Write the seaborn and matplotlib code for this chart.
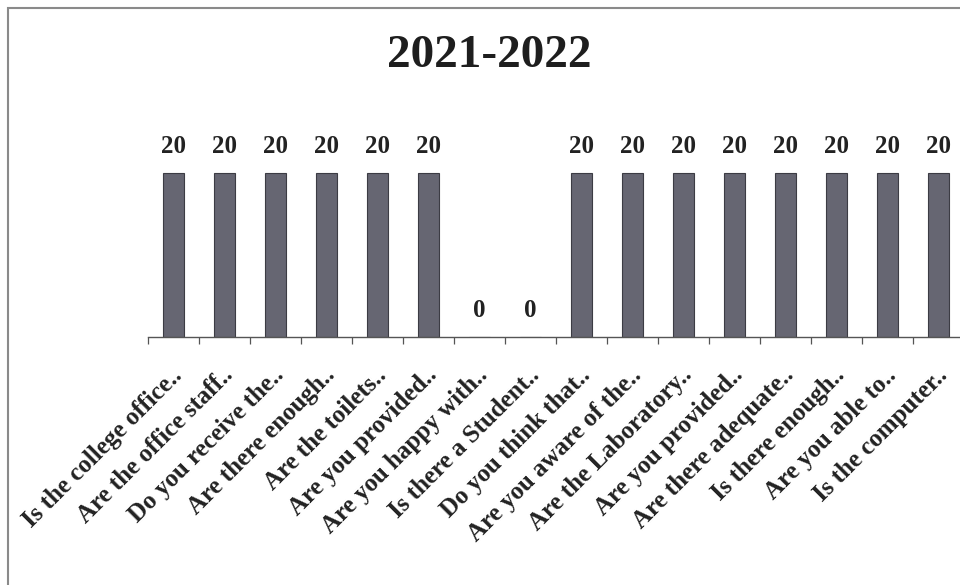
import numpy as np
import pandas as pd
import seaborn as sns
import matplotlib
matplotlib.use("Agg")
from matplotlib import pyplot as plt
from matplotlib import patches, transforms
from matplotlib.ticker import FixedLocator

title = "2021-2022"
questions = [
    "Is the college office..",
    "Are the office staff..",
    "Do you receive the..",
    "Are there enough..",
    "Are the toilets..",
    "Are you provided..",
    "Are you happy with..",
    "Is there a Student..",
    "Do you think that..",
    "Are you aware of the..",
    "Are the Laboratory..",
    "Are you provided..",
    "Are there adequate..",
    "Is there enough..",
    "Are you able to..",
    "Is the computer..",
]
responses = [20, 20, 20, 20, 20, 20, 0, 0, 20, 20, 20, 20, 20, 20, 20, 20]

sns.set_style("white")
plt.rcParams["font.family"] = ["Liberation Serif", "DejaVu Serif"]
plt.rcParams["font.weight"] = "bold"

df = pd.DataFrame({"idx": np.arange(len(questions)), "value": responses})

fig = plt.figure(figsize=(9.6, 5.85), dpi=100)
ax = fig.add_axes([0.1542, 0.4239, 0.85, 0.3504])

sns.barplot(df, x="idx", y="value", color="#666672", width=0.4,
            edgecolor="#3c3c44", linewidth=0.8, saturation=1, ax=ax)

ax.set_xlim(-0.5, len(questions) - 0.5)
ax.set_ylim(0, 25)
ax.set_xlabel("")
ax.set_ylabel("")
ax.set_yticks([])
for s in ["top", "right", "left"]:
    ax.spines[s].set_visible(False)
ax.spines["bottom"].set_color("#555555")
ax.spines["bottom"].set_linewidth(1.0)

ax.set_xticks(range(len(questions)))
ax.set_xticklabels(questions, rotation=45, ha="right", va="center",
                   rotation_mode="anchor", fontsize=18, fontweight="bold",
                   color="#222222")
ax.xaxis.set_minor_locator(FixedLocator(np.arange(-0.5, len(questions), 1.0)))
ax.tick_params(axis="x", which="major", length=0, pad=25)
ax.tick_params(axis="x", which="minor", length=5, width=0.9, color="#555555",
               direction="out", bottom=True)
offset = transforms.ScaledTranslation(0.05, 0, fig.dpi_scale_trans)
for lab in ax.get_xticklabels():
    lab.set_transform(lab.get_transform() + offset)

ax.bar_label(ax.containers[0], labels=[str(v) for v in responses], padding=11,
             fontsize=18, fontweight="bold", color="#222222")

fig.text(0.51, 0.905, title, ha="center", va="center", fontsize=34,
         fontweight="bold", color="#1e1e1e")

fig.patches.append(patches.Rectangle((8 / 960, -0.05), 1.1, 1.05 - 8 / 585,
                                     transform=fig.transFigure, fill=False,
                                     edgecolor="#8a8a8a", linewidth=1.5))

fig.savefig("out.png", dpi=100)
